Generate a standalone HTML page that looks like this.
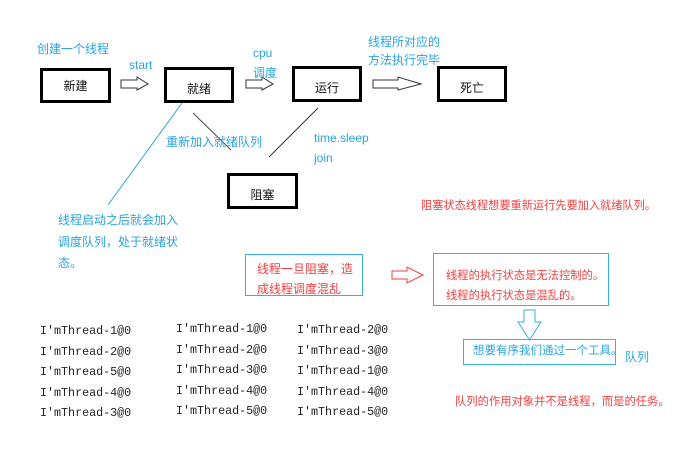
<!DOCTYPE html>
<html><head><meta charset="utf-8"><style>
body{margin:0;width:692px;height:452px;background:#fff;position:relative;overflow:hidden;font-family:"Liberation Sans","Noto Sans CJK SC",sans-serif}
.a{position:absolute;white-space:nowrap;line-height:1}
.b{position:absolute;border:3px solid #000;box-sizing:border-box;font-size:12px;color:#111;display:flex;align-items:center;justify-content:center}
.bl{color:#29a3e0;font-size:12px}
.rd{color:#f04040;font-size:12px}
.m{position:absolute;font-family:"Liberation Mono",monospace;font-size:11.7px;color:#222;line-height:20.5px;white-space:pre}
.bx{position:absolute;border:1.5px solid #3aaee8;box-sizing:border-box}
</style></head><body>
<div class="b" style="left:40px;top:68px;width:71px;height:35px">新建</div>
<div class="b" style="left:164px;top:67px;width:70px;height:36px;padding-top:6px">就绪</div>
<div class="b" style="left:292px;top:66px;width:70px;height:36px;padding-top:6px">运行</div>
<div class="b" style="left:437px;top:66px;width:70px;height:36px;padding-top:6px">死亡</div>
<div class="b" style="left:227px;top:173px;width:71px;height:36px;padding-top:6px">阻塞</div>
<svg width="692" height="452" style="position:absolute;left:0;top:0">
<g fill="#fff" stroke="#333" stroke-width="1">
<polygon points="121,80 137,80 137,77 148,84 137,90 137,88 121,88"/>
<polygon points="246,80 262,80 262,77 273,84 262,90 262,88 246,88"/>
<polygon points="373,80 398,80 398,77 421,84 398,90 398,88 373,88"/>
</g>
<polygon points="392,271 407,271 407,267 423,275 407,283 407,279 392,279" fill="#fff" stroke="#f04040"/>
<polygon points="524,310 535,310 535,322 541,322 529.5,340 518,322 524,322" fill="#fff" stroke="#3aaee8"/>
<line x1="182" y1="103" x2="108" y2="205" stroke="#29a3e0"/>
<line x1="193" y1="113" x2="231" y2="150" stroke="#444"/>
<line x1="318" y1="108" x2="269" y2="157" stroke="#333"/>
</svg>
<div class="a bl" style="left:37px;top:43px">创建一个线程</div>
<div class="a bl" style="left:129px;top:59px">start</div>
<div class="a bl" style="left:253px;top:47px">cpu</div>
<div class="a bl" style="left:253px;top:67px">调度</div>
<div class="a bl" style="left:368px;top:36px">线程所对应的</div>
<div class="a bl" style="left:368px;top:54px">方法执行完毕</div>
<div class="a bl" style="left:166px;top:136px">重新加入就绪队列</div>
<div class="a bl" style="left:314px;top:132px">time.sleep</div>
<div class="a bl" style="left:314px;top:152px">join</div>
<div class="a bl" style="left:58px;top:214px">线程启动之后就会加入</div>
<div class="a bl" style="left:58px;top:236px">调度队列，处于就绪状</div>
<div class="a bl" style="left:58px;top:257px">态。</div>
<div class="a rd" style="left:421px;top:201px;font-size:11.2px">阻塞状态线程想要重新运行先要加入就绪队列。</div>
<div class="bx" style="left:245px;top:254px;width:118px;height:42px"></div>
<div class="a rd" style="left:257px;top:259px;line-height:20px">线程一旦阻塞，造<br>成线程调度混乱</div>
<div class="bx" style="left:433px;top:253px;width:176px;height:53px"></div>
<div class="a rd" style="left:446px;top:266px;line-height:20px;font-size:11.3px">线程的执行状态是无法控制的。<br>线程的执行状态是混乱的。</div>
<div class="bx" style="left:463px;top:339px;width:153px;height:26px"></div>
<div class="a bl" style="left:473px;top:346px;font-size:11.5px">想要有序我们通过一个工具。</div>
<div class="a bl" style="left:625px;top:351px">队列</div>
<div class="a rd" style="left:455px;top:397px;font-size:11.3px">队列的作用对象并不是线程，而是的任务。</div>
<div class="m" style="left:40px;top:321px">I'mThread-1@0
I'mThread-2@0
I'mThread-5@0
I'mThread-4@0
I'mThread-3@0</div>
<div class="m" style="left:176px;top:319px">I'mThread-1@0
I'mThread-2@0
I'mThread-3@0
I'mThread-4@0
I'mThread-5@0</div>
<div class="m" style="left:297px;top:320px">I'mThread-2@0
I'mThread-3@0
I'mThread-1@0
I'mThread-4@0
I'mThread-5@0</div>
</body></html>
